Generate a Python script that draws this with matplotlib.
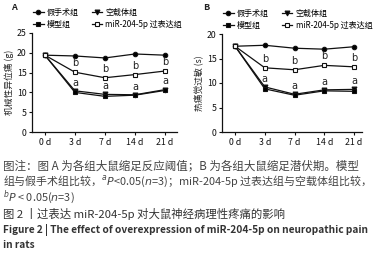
import matplotlib
matplotlib.use('Agg')
import matplotlib.pyplot as plt

plt.rcParams['font.family'] = ['Noto Sans CJK SC', 'DejaVu Sans']

days = ['0 d', '3 d', '7 d', '14 d', '21 d']
groups = ['假手术组', '空载体组', '模型组', 'miR-204-5p 过表达组']

# A: 缩足反应阈值 (g)
a_sham = [19.4, 19.2, 18.7, 19.7, 19.4]
a_vector = [19.4, 10.4, 9.5, 9.4, 10.7]
a_model = [19.4, 10.0, 9.0, 9.3, 10.5]
a_mir = [19.4, 15.1, 13.7, 14.5, 15.4]

# B: 缩足潜伏期 (s)
b_sham = [17.5, 17.7, 17.1, 16.9, 17.4]
b_vector = [17.5, 9.2, 7.7, 8.6, 8.7]
b_model = [17.5, 8.8, 7.5, 8.4, 8.3]
b_mir = [17.5, 13.1, 12.7, 13.6, 13.3]

W, H = 378, 258
fig = plt.figure(figsize=(W / 100, H / 100), dpi=100)
fig.patch.set_facecolor('white')

def px(x0, y0, x1, y1):
    return [x0 / W, 1 - y1 / H, (x1 - x0) / W, (y1 - y0) / H]

styles = [
    dict(marker='o', mfc='black', ms=3.2),
    dict(marker='v', mfc='black', ms=3.5),
    dict(marker='s', mfc='black', ms=3.5),
    dict(marker='s', mfc='white', ms=3.5),
]

def panel(ax, series, ymax, ystep, ylabel, xlim):
    x = list(range(len(days)))
    handles = []
    for vals, st, name in zip(series, styles, groups):
        h, = ax.plot(x, vals, color='#111111', lw=0.9, mec='#111111', mew=0.8,
                     label=name, **st)
        handles.append(h)
    for i in x[1:]:
        ax.text(i, series[3][i] + 1.0 * ymax / 25, 'b', ha='center', va='bottom',
                fontsize=7, color='#222222', family='DejaVu Sans')
        top = max(series[1][i], series[2][i])
        ax.text(i, top + 0.8 * ymax / 25, 'a', ha='center', va='bottom',
                fontsize=7, color='#222222', family='DejaVu Sans')
    ax.set_ylim(0, ymax)
    ax.set_xlim(*xlim)
    ax.set_yticks(range(0, ymax + 1, ystep))
    ax.set_xticks(x)
    ax.set_xticklabels(days)
    for s in ['top', 'right']:
        ax.spines[s].set_visible(False)
    for s in ['left', 'bottom']:
        ax.spines[s].set_linewidth(0.9)
        ax.spines[s].set_color('#111111')
    ax.tick_params(labelsize=6.3, length=2.5, width=0.8, pad=1.5, colors='#111111')
    ax.set_ylabel(ylabel, fontsize=6.3, labelpad=2, color='#222222')
    return handles

axA = fig.add_axes(px(32, 33, 177, 132))
hA = panel(axA, [a_sham, a_vector, a_model, a_mir], 25, 5, '机械性异位痛 (g)',
           (-0.43, 4.4))
axB = fig.add_axes(px(222, 34, 362, 132))
hB = panel(axB, [b_sham, b_vector, b_model, b_mir], 20, 5, '热痛觉过敏 (s)',
           (-0.44, 4.27))

for ax, lx, label, hs in [(axA, 11, 'A', hA), (axB, 203, 'B', hB)]:
    fig.text(lx / W, 1 - 7 / H, label, fontsize=6.5, ha='left', va='center',
             fontweight='bold', color='#222222')
    # legend fills column by column: rows are (sham, vector), (model, miR)
    ax.legend(handles=[hs[0], hs[2], hs[1], hs[3]], ncol=2, fontsize=5.8,
              loc='lower left', bbox_to_anchor=(-0.02, 1.0), frameon=False,
              handlelength=1.3, handletextpad=0.4, columnspacing=1.6,
              labelspacing=0.35, borderaxespad=0.1)

cap_color = '#444444'
fig.text(3 / W, 1 - 166 / H, '图注：图 A 为各组大鼠缩足反应阈值；B 为各组大鼠缩足潜伏期。模型',
         fontsize=8.3, color=cap_color, va='center')
fig.text(3 / W, 1 - 181 / H,
         '组与假手术组比较，$^{a}$$\\it{P}$<0.05($\\it{n}$=3)；miR-204-5p 过表达组与空载体组比较，',
         fontsize=7.9, color=cap_color, va='center')
fig.text(3 / W, 1 - 197 / H, '$^{b}$$\\it{P}$ < 0.05($\\it{n}$=3)',
         fontsize=7.9, color=cap_color, va='center')
fig.text(3 / W, 1 - 214 / H, '图 2 丨过表达 miR-204-5p 对大鼠神经病理性疼痛的影响',
         fontsize=8.2, color='#333333', va='center')
fig.text(3 / W, 1 - 230 / H,
         'Figure 2 | The effect of overexpression of miR-204-5p on neuropathic pain',
         fontsize=7.3, color='#333333', va='center', fontweight='bold')
fig.text(3 / W, 1 - 245 / H, 'in rats',
         fontsize=7.3, color='#333333', va='center', fontweight='bold')

fig.savefig('out.png', dpi=100)
